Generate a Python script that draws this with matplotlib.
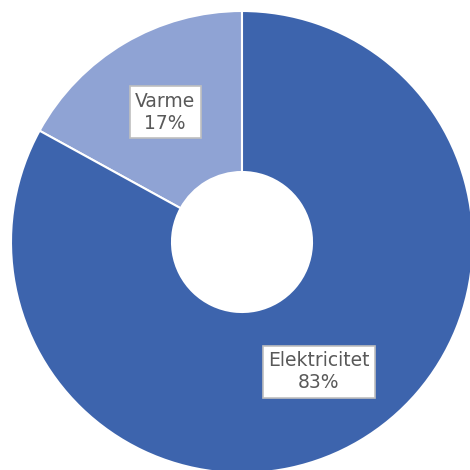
import matplotlib.pyplot as plt

labels = ['Varme', 'Elektricitet']
shares = [17, 83]
colors = ['#8FA3D4', '#3D64AD']

fig = plt.figure(figsize=(4.7, 4.7), dpi=100)
ax = fig.add_axes([0, 0, 1, 1])

outer = 231
inner = 70
center = (242, 470 - 242)

wedges, texts = ax.pie(shares, colors=colors, startangle=90, counterclock=True,
                       radius=outer, center=center,
                       labels=[f'{l}\n{s}%' for l, s in zip(labels, shares)],
                       labeldistance=151 / outer,
                       wedgeprops=dict(width=outer - inner, edgecolor='white', linewidth=1.5),
                       textprops=dict(fontsize=13.5, color='#595959', ha='center', va='center',
                                      linespacing=1.2))
for t in texts:
    t.set_horizontalalignment('center')
    t.set_bbox(dict(boxstyle='square,pad=0.28', facecolor='white', edgecolor='#BFBFBF', linewidth=1.2))

ax.set_xlim(0, 470)
ax.set_ylim(0, 470)
ax.set_aspect('equal')
ax.axis('off')

fig.savefig('out.png', dpi=100)
